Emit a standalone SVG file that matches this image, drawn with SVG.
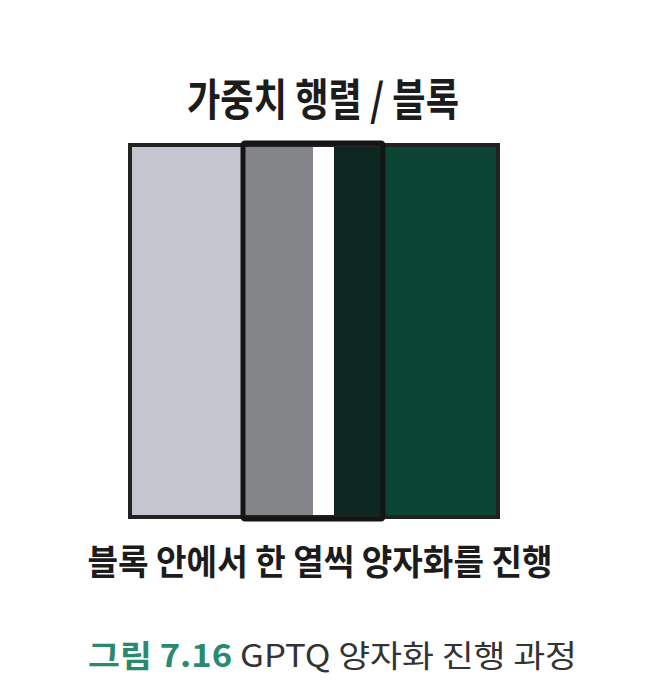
<svg xmlns="http://www.w3.org/2000/svg" width="649" height="681" viewBox="0 0 649 681">
<style>
.hand{font-family:"Noto Sans CJK KR","Noto Sans",sans-serif;font-weight:700;fill:#1c1c1c}
.cap{font-family:"Noto Sans CJK KR","Liberation Sans",sans-serif;font-size:31px}
</style>
<rect width="649" height="681" fill="#ffffff"/>
<g id="title"><text class="hand" x="323" y="116" font-size="44" text-anchor="middle" textLength="272" lengthAdjust="spacingAndGlyphs">가중치 행렬 / 블록</text></g>
<g id="matrix">
<rect x="130" y="145" width="368" height="372" fill="#c3c6ce" stroke="#222" stroke-width="4"/>
<rect x="242" y="145" width="71" height="372" fill="#838589"/>
<rect x="313" y="145" width="21" height="372" fill="#ffffff"/>
<rect x="334" y="145" width="49" height="372" fill="#0d2720"/>
<rect x="383" y="145" width="114" height="372" fill="#0c4434"/>
<rect x="130" y="145" width="368" height="372" fill="none" stroke="#222" stroke-width="4"/>
</g>
<g id="block"><rect x="243" y="143" width="140" height="376" rx="2" fill="none" stroke="#151515" stroke-width="5"/></g>
<g id="subtitle"><text class="hand" x="320" y="575" font-size="35" text-anchor="middle" textLength="465" lengthAdjust="spacingAndGlyphs">블록 안에서 한 열씩  양자화를 진행</text></g>
<g id="caption"><text class="cap" x="88" y="667" textLength="489" lengthAdjust="spacingAndGlyphs"><tspan fill="#2a8a70" font-weight="700">그림 7.16</tspan><tspan fill="#333"> GPTQ 양자화 진행 과정</tspan></text></g>
</svg>
